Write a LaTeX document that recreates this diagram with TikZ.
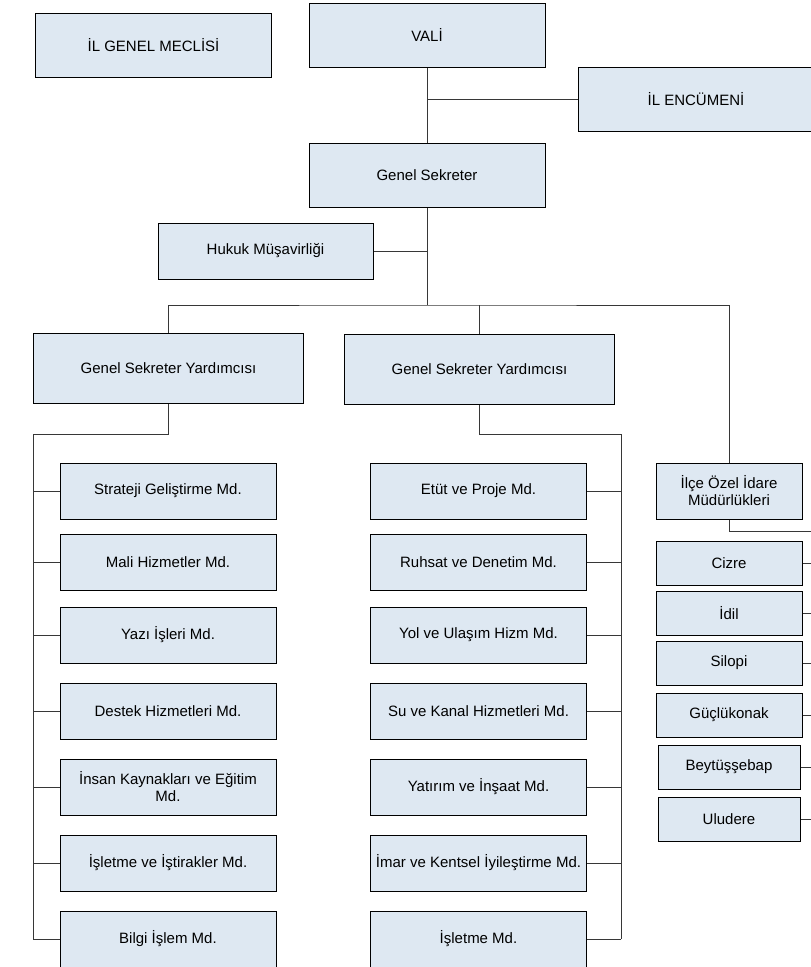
\documentclass[tikz,border=0pt]{standalone}
\usepackage{fontspec}
\setmainfont{Liberation Sans}
\usepackage{tikz}

\definecolor{boxfill}{RGB}{222,232,242}
\definecolor{linegray}{RGB}{55,55,55}

\tikzset{
  box/.style={draw=black,fill=boxfill,line width=1pt,inner sep=2pt,align=center,
    font=\fontsize{15}{17}\selectfont},
  bigbox/.style={box,minimum width=236pt,minimum height=64pt},
  gsybox/.style={box,minimum width=270pt,minimum height=70pt},
  mdbox/.style={box,minimum width=216pt,minimum height=56pt},
  ilcebox/.style={box,minimum width=146pt,minimum height=44pt},
  link/.style={draw=linegray,line width=1pt}
}

\begin{document}
\begin{tikzpicture}[x=1pt,y=-1pt]
\clip (0,0) rectangle (811,967);
\fill[white] (0,0) rectangle (811,967);

% top
\node[bigbox] (meclis) at (153.5,45) {İL GENEL MECLİSİ};
\node[bigbox] (vali) at (427,35) {VALİ};
\node[bigbox] (encumen) at (696,99) {İL ENCÜMENİ};
\node[bigbox] (gensek) at (427,175) {Genel Sekreter};
\node[box,minimum width=215pt,minimum height=56pt] (hukuk) at (265.5,251) {Hukuk Müşavirliği};

\node[gsybox] (gsya) at (168.5,368.5) {Genel Sekreter Yardımcısı};
\node[gsybox] (gsyb) at (479.5,369.5) {Genel Sekreter Yardımcısı};

% left column
\node[mdbox] (strateji) at (168,491) {Strateji Geliştirme Md.};
\node[mdbox] (mali) at (168,562) {Mali Hizmetler Md.};
\node[mdbox] (yazi) at (168,635) {Yazı İşleri Md.};
\node[mdbox] (destek) at (168,711) {Destek Hizmetleri Md.};
\node[mdbox] (insan) at (168,787) {İnsan Kaynakları ve Eğitim\\Md.};
\node[mdbox] (istirak) at (168,863) {İşletme ve İştirakler Md.};
\node[mdbox] (bilgi) at (168,939) {Bilgi İşlem Md.};

% middle column
\node[mdbox] (etut) at (478.5,491) {Etüt ve Proje Md.};
\node[mdbox] (ruhsat) at (478.5,562) {Ruhsat ve Denetim Md.};
\node[mdbox] (yol) at (478.5,635) {Yol ve Ulaşım Hizm Md.};
\node[mdbox] (su) at (478.5,711) {Su ve Kanal Hizmetleri Md.};
\node[mdbox] (yatirim) at (478.5,787) {Yatırım ve İnşaat Md.};
\node[mdbox] (imar) at (478.5,863) {İmar ve Kentsel İyileştirme Md.};
\node[mdbox] (isletme) at (478.5,939) {İşletme Md.};

% right column
\node[box,minimum width=146pt,minimum height=56pt] (ilce) at (729,491) {İlçe Özel İdare\\Müdürlükleri};
\node[ilcebox] (cizre) at (729,563) {Cizre};
\node[ilcebox] (idil) at (729,613) {İdil};
\node[ilcebox] (silopi) at (729,663) {Silopi};
\node[ilcebox] (gucluk) at (729,715) {Güçlükonak};
\node[ilcebox,minimum width=142pt] (beytus) at (729,767) {Beytüşşebap};
\node[ilcebox,minimum width=142pt] (uludere) at (729,819) {Uludere};

\coordinate (bus) at (427,305);
\coordinate (lbus) at (33,434);
\coordinate (mbus) at (621,434);
\coordinate (rbus) at (815,531);

% connectors
\path[link] (vali) -- (gensek);
\path[link] (encumen.west) -- (vali.south |- encumen.west);
\path[link] (hukuk.east) -- (gensek.south |- hukuk.east);
\path[link] (gensek) -- (bus);
\path[link] (gsya.north) |- (bus) -| (ilce.north);
\path[link] (gsyb.north) -- (gsyb.north |- bus);

\path[link] (gsya.south) |- (lbus) -- (lbus |- bilgi.west);
\foreach \n in {strateji,mali,yazi,destek,insan,istirak,bilgi}
  \path[link] (\n.west) -- (lbus |- \n.west);

\path[link] (gsyb.south) |- (mbus) -- (mbus |- isletme.east);
\foreach \n in {etut,ruhsat,yol,su,yatirim,imar,isletme}
  \path[link] (\n.east) -- (mbus |- \n.east);

\path[link] (ilce.south) |- (rbus) -- (rbus |- uludere.east);
\foreach \n in {cizre,idil,silopi,gucluk,beytus,uludere}
  \path[link] (\n.east) -- (rbus |- \n.east);
\end{tikzpicture}
\end{document}
